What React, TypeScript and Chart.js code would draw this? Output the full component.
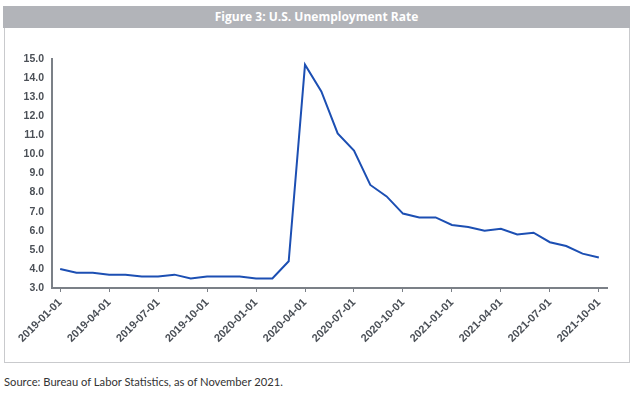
import React, { useEffect, useRef } from "react";
import { Chart, registerables } from "chart.js";

Chart.register(...registerables);

const title = "Figure 3: U.S. Unemployment Rate";
const source = "Source: Bureau of Labor Statistics, as of November 2021.";

const months = [
  "2019-01-01", "2019-02-01", "2019-03-01", "2019-04-01", "2019-05-01", "2019-06-01",
  "2019-07-01", "2019-08-01", "2019-09-01", "2019-10-01", "2019-11-01", "2019-12-01",
  "2020-01-01", "2020-02-01", "2020-03-01", "2020-04-01", "2020-05-01", "2020-06-01",
  "2020-07-01", "2020-08-01", "2020-09-01", "2020-10-01", "2020-11-01", "2020-12-01",
  "2021-01-01", "2021-02-01", "2021-03-01", "2021-04-01", "2021-05-01", "2021-06-01",
  "2021-07-01", "2021-08-01", "2021-09-01", "2021-10-01",
];

const unemployment = [
  4.0, 3.8, 3.8, 3.7, 3.7, 3.6, 3.6, 3.7, 3.5, 3.6, 3.6, 3.6,
  3.5, 3.5, 4.4, 14.7, 13.3, 11.1, 10.2, 8.4, 7.8, 6.9, 6.7, 6.7,
  6.3, 6.2, 6.0, 6.1, 5.8, 5.9, 5.4, 5.2, 4.8, 4.6,
];

const yMin = 3;
const yMax = 15;
const labelEvery = 3;

export default function App() {
  const ref = useRef<HTMLCanvasElement | null>(null);

  useEffect(() => {
    document.body.style.margin = "0";
    const axisColor = "#7b8087";
    const tickColor = "#4b5057";
    const chart = new Chart(ref.current!, {
      type: "line",
      data: {
        labels: months,
        datasets: [
          {
            data: unemployment,
            borderColor: "#1c4fb3",
            borderWidth: 2,
            pointRadius: 0,
            tension: 0,
            fill: false,
          },
        ],
      },
      options: {
        animation: false,
        responsive: false,
        maintainAspectRatio: false,
        layout: { padding: { top: 30, right: 21, bottom: 0, left: 0 } },
        plugins: { legend: { display: false }, tooltip: { enabled: false } },
        scales: {
          x: {
            type: "category",
            offset: true,
            grid: {
              offset: false,
              drawOnChartArea: false,
              drawTicks: true,
              tickLength: 4,
              color: axisColor,
              lineWidth: 1,
            },
            border: { display: true, color: axisColor, width: 2 },
            ticks: {
              autoSkip: false,
              maxRotation: 45,
              minRotation: 45,
              padding: 4,
              color: tickColor,
              font: { family: "'Liberation Sans', Arial, sans-serif", size: 11, weight: "bold" },
              callback: (_v: any, i: number) => (i % labelEvery === 0 ? months[i] : null),
            },
            afterFit: (s: any) => {
              s.height = 74;
            },
          },
          y: {
            min: yMin,
            max: yMax,
            grid: { display: false, drawTicks: false },
            border: { display: true, color: axisColor, width: 2 },
            ticks: {
              stepSize: 1,
              padding: 8,
              color: tickColor,
              font: { family: "'Liberation Sans', Arial, sans-serif", size: 10.5, weight: "bold" },
              callback: (v: any) => Number(v).toFixed(1),
            },
            afterFit: (s: any) => {
              s.width = 47;
            },
          },
        },
      },
    } as any);
    return () => chart.destroy();
  }, []);

  return (
    <div style={{ position: "fixed", left: 0, top: 0, width: 636, height: 396, background: "#fff" }}>
      <div
        style={{
          position: "absolute",
          left: 3,
          top: 6,
          width: 627,
          height: 22,
          background: "#b2b4b9",
          color: "#fff",
          fontFamily: "'Open Sans', sans-serif",
          fontWeight: 700,
          fontSize: 12,
          lineHeight: "22px",
          textAlign: "center",
        }}
      >
        {title}
      </div>
      <div
        style={{
          position: "absolute",
          left: 4,
          top: 28,
          width: 624,
          height: 334,
          borderLeft: "1px solid #c9cacd",
          borderRight: "1px solid #c9cacd",
          borderBottom: "1px solid #c9cacd",
        }}
      />
      <canvas
        ref={ref}
        width={623}
        height={333}
        style={{ position: "absolute", left: 5, top: 29, width: 623, height: 333 }}
      />
      <div
        style={{
          position: "absolute",
          left: 4,
          top: 375,
          fontFamily: "Lato, 'Open Sans', sans-serif",
          fontSize: 11.2,
          color: "#333",
          whiteSpace: "nowrap",
        }}
      >
        {source}
      </div>
    </div>
  );
}
